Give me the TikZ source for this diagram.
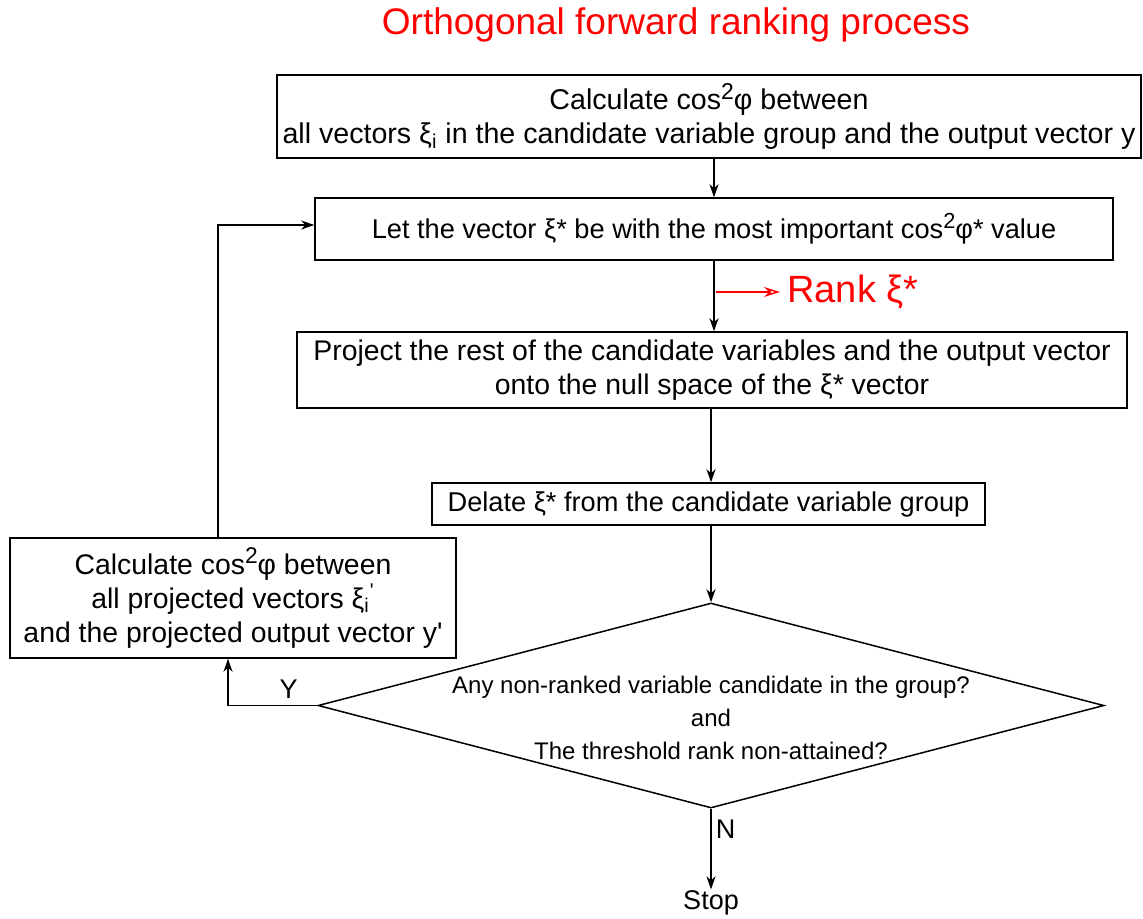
\documentclass[tikz,border=0pt]{standalone}
\usepackage{fontspec}
\setmainfont{Liberation Sans}
\usepackage{textcomp}
\usepackage{tikz}
\usetikzlibrary{arrows}
\usetikzlibrary{arrows.meta}
\usetikzlibrary{positioning}
\usetikzlibrary{shapes.geometric}

\newcommand{\sqr}{\raisebox{0.7ex}{\scalebox{0.8}{2}}}
\newcommand{\xii}{ξ\textsubscript{i}}
\newcommand{\prm}{\textquotesingle}
\newcommand{\fsz}[1]{\fontsize{#1}{17}\selectfont}

\begin{document}
\begin{tikzpicture}[x=0.5pt,y=-0.5pt,->,>={Stealth[length=6.5pt,width=4.5pt,inset=2pt]},line width=0.75pt,
	stepbox/.style={draw,-,rectangle,align=center,inner sep=0pt,font=\fsz{14.2}},
	lbl/.style={font=\fontsize{13.5}{15}\selectfont}]
	\useasboundingbox (0,0) rectangle (1143,918);
	\node[red,font=\fontsize{18.5}{22}\selectfont] (title) at (676,25) {Orthogonal forward ranking process};
	\node[stepbox,minimum width=432pt,minimum height=41.5pt,font=\fsz{14.3}] (calc) at (709,116.5)
		{Calculate cos\sqr φ between\\all vectors \xii{} in the candidate variable group and the output vector y};
	\node[stepbox,minimum width=399pt,minimum height=31pt,font=\fsz{13.6}] (best) at (714,229)
		{Let the vector ξ* be with the most important cos\sqr φ* value};
	\node[stepbox,minimum width=415pt,minimum height=38pt] (proj) at (712,370)
		{Project the rest of the candidate variables and the output vector\\onto the null space of the ξ* vector};
	\node[stepbox,minimum width=276.5pt,minimum height=21pt,font=\fsz{13.6}] (del) at (708.5,504)
		{Delate ξ* from the candidate variable group};
	\node[stepbox,minimum width=223pt,minimum height=60pt] (recalc) at (233,598)
		{Calculate cos\sqr φ between\\all projected vectors \xii\textsuperscript{\prm}\\and the projected output vector y\prm};
	\node[draw,-,diamond,minimum width=393pt,minimum height=102.5pt,inner sep=0pt] (check) at (711,705.5) {};
	\node[align=center,font=\fontsize{12}{16.5}\selectfont] (checktext) at (711,718)
		{Any non-ranked variable candidate in the group?\\and\\The threshold rank non-attained?};
	\node[lbl] (stop) at (711,903) {Stop};
	\node[red,anchor=west,font=\fontsize{19}{22}\selectfont] (rank) at (780,292) {Rank ξ*};
	\coordinate (rankfrom) at (716,292);

	\draw (calc.south -| best.north) -- (best.north);
	\draw (best.south) -- (best.south |- proj.north);
	\draw (proj.south -| check.north) -- (del.north -| check.north);
	\draw (del.south -| check.north) -- (check.north);
	\draw (check.west) -| node[lbl,pos=0.16,above] {Y} ([xshift=-2.5pt]recalc.south);
	\draw ([xshift=-7.5pt]recalc.north) |- ([yshift=2pt]best.west);
	\draw (check.south) -- node[lbl,right,pos=0.25,inner sep=2pt] {N} ([yshift=-3pt]stop.north);
	\draw[red,-{Stealth[open,length=8pt,width=5pt]}] (rankfrom) -- (rank.west);
\end{tikzpicture}
\end{document}
